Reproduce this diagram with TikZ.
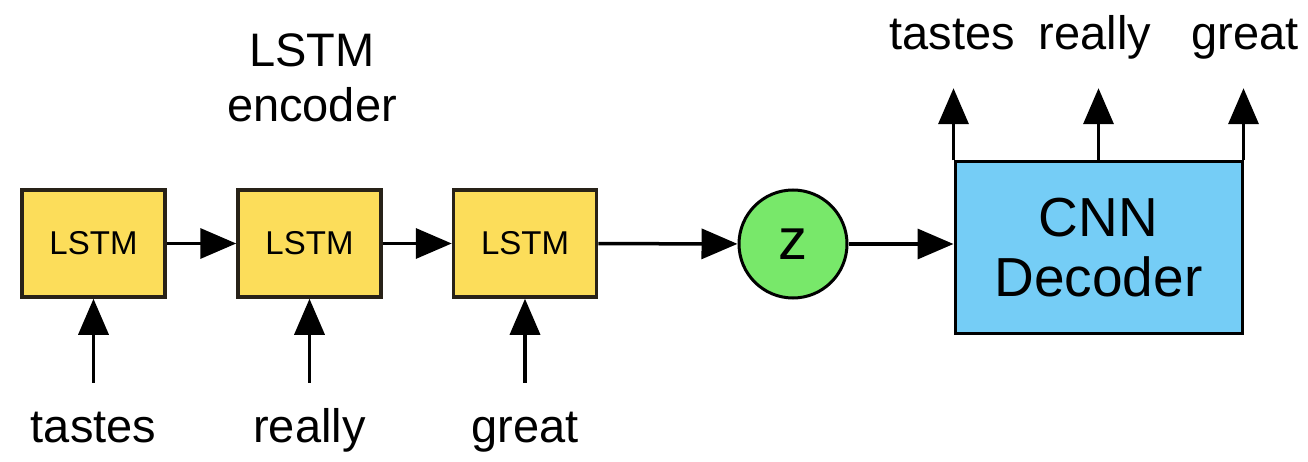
\documentclass[tikz,border=0pt]{standalone}
\usepackage{fontspec}
\setmainfont{Liberation Sans}
\usetikzlibrary{arrows.meta,positioning}
\definecolor{lstmyellow}{RGB}{252,221,90}
\definecolor{zgreen}{RGB}{120,232,106}
\definecolor{cnnblue}{RGB}{117,205,246}
\definecolor{edgeline}{RGB}{40,34,24}
\tikzset{
  cell/.style={draw=edgeline,line width=3.5pt,fill=lstmyellow,minimum width=143pt,minimum height=107pt,font=\fontsize{33}{33}\selectfont},
  latent/.style={circle,draw=black,line width=3pt,fill=zgreen,minimum size=108pt,font=\fontsize{58}{58}\selectfont},
  decoder/.style={draw=black,line width=3pt,fill=cnnblue,minimum width=287pt,minimum height=171pt,align=center,font=\fontsize{55}{60}\selectfont},
  word/.style={font=\fontsize{47}{47}\selectfont,inner sep=0pt,text height=34pt,text depth=10pt},
  flow/.style={line width=3.5pt,-{Triangle[length=36pt,width=30pt]}},
}
\begin{document}
\begin{tikzpicture}[x=1pt,y=-1pt]
\useasboundingbox (0,0) rectangle (1308,462);
% encoder cells and their input words
\foreach \i/\x/\w in {1/93.5/tastes,2/309.5/really,3/525/great}{
  \node[cell] (lstm\i) at (\x,243.5) {LSTM};
  \node[word] (in\i) at (\x,430) {\w};
}
\foreach \i in {1,2,3} {\draw[flow,shorten <=25pt] (in\i.north) -- (lstm\i.south);}
\draw[flow] (lstm1) -- (lstm2);
\draw[flow] (lstm2) -- (lstm3);
\node[align=center,font=\fontsize{47}{55}\selectfont] (title) at (312,78) {LSTM\\encoder};
% latent code and decoder
\node[latent] (z) at (793,244) {z};
\node[decoder] (dec) at (1098.5,247.5) {CNN\\Decoder};
\draw[flow] (lstm3) -- (z);
\draw[flow] (z) -- (z -| dec.west);
% decoder outputs
\node[word] (out1) at (952,38) {tastes};
\node[word] (out2) at (1095,38) {really};
\node[word] (out3) at (1245,38) {great};
\draw[flow,shorten >=28pt] (dec.north west) -- (dec.north west |- out1.south);
\draw[flow,shorten >=28pt] (dec.north) -- (dec.north |- out2.south);
\draw[flow,shorten >=28pt] (dec.north east) -- (dec.north east |- out3.south);
\end{tikzpicture}
\end{document}
